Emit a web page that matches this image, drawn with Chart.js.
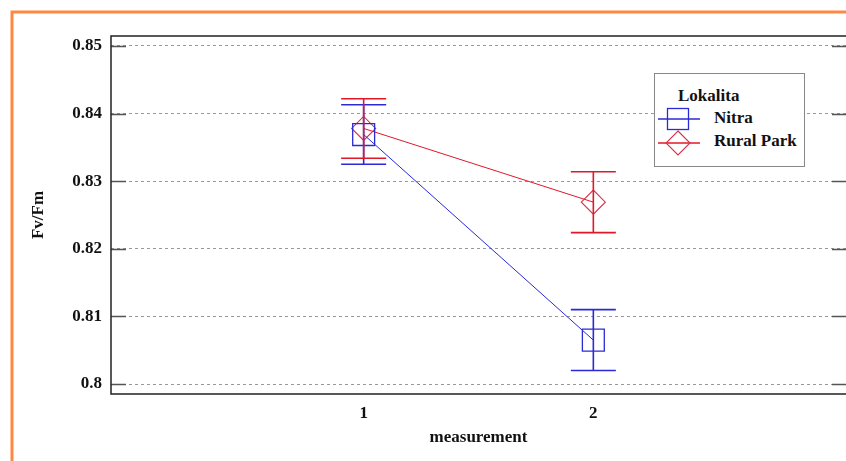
<!DOCTYPE html>
<html>
<head>
<meta charset="utf-8">
<script src="https://cdn.jsdelivr.net/npm/chart.js@4/dist/chart.umd.min.js"></script>
<style>
  html, body { margin: 0; padding: 0; background: #fff; }
  #wrap { position: relative; width: 846px; height: 461px; overflow: hidden; }
  #legend { position: absolute; left: 654px; top: 73px; width: 149px; height: 92px;
    border: 1px solid #888; background: #fff; box-sizing: content-box;
    font: bold 17px "Liberation Serif", "Times New Roman", serif; color: #111; }
  #legend .title { position: absolute; left: 23px; top: 12px; }
  #legend .item { position: absolute; left: 2px; height: 24px; width: 146px; }
  #legend .item svg { position: absolute; left: 0; top: 0; }
  #legend .item span { position: absolute; left: 57px; top: 1px; white-space: nowrap; }
</style>
</head>
<body>
<div id="wrap">
  <canvas id="c" width="846" height="461"></canvas>
  <div id="legend"></div>
</div>
<script>
// ---- data ----
const categories = [1, 2];
const xTickLabels = ['1', '2'];
const yTicks = [0.80, 0.81, 0.82, 0.83, 0.84, 0.85];
const seriesNames = ['Nitra', 'Rural Park'];
const legendTitle = 'Lokalita';
const nitraMean = [0.8369, 0.8065];
const nitraErr = [0.0044, 0.0045];
const ruralMean = [0.8378, 0.8269];
const ruralErr = [0.0044, 0.0045];
const xTitle = 'measurement';
const yTitle = 'Fv/Fm';

const BLUE = '#2a2ad6';
const RED = '#e0182a';
const FONT = { family: '"Liberation Serif", "Times New Roman", serif', size: 17, weight: 'bold' };

function pts(xs, ys) { return xs.map((x, i) => ({ x: x, y: ys[i] })); }

const errSets = [nitraErr, ruralErr];
const meanSets = [nitraMean, ruralMean];

const framePlugin = {
  id: 'frame',
  beforeDraw(chart) {
    const ctx = chart.ctx;
    ctx.save();
    ctx.fillStyle = '#fff';
    ctx.fillRect(0, 0, chart.width, chart.height);
    ctx.strokeStyle = '#ff8840';
    ctx.lineWidth = 3;
    ctx.beginPath();
    ctx.moveTo(12, chart.height + 5);
    ctx.lineTo(12, 12);
    ctx.lineTo(chart.width + 5, 12);
    ctx.stroke();
    ctx.restore();
  },
  afterDraw(chart) {
    const ctx = chart.ctx;
    const a = chart.chartArea;
    const y = chart.scales.y;
    ctx.save();
    ctx.strokeStyle = '#555';
    ctx.lineWidth = 1.5;
    y.ticks.forEach(t => {
      const py = Math.round(y.getPixelForValue(t.value)) + 0.5;
      ctx.beginPath();
      ctx.moveTo(a.left, py); ctx.lineTo(a.left + 15, py);
      ctx.moveTo(a.right - 14, py); ctx.lineTo(a.right + 2, py);
      ctx.stroke();
    });
    ctx.strokeStyle = '#222';
    ctx.lineWidth = 1.5;
    ctx.beginPath();
    ctx.moveTo(a.right + 2, a.top);
    ctx.lineTo(a.left, a.top);
    ctx.lineTo(a.left, a.bottom);
    ctx.lineTo(a.right + 2, a.bottom);
    ctx.stroke();
    ctx.restore();
  },
  afterDatasetsDraw(chart) {
    const ctx = chart.ctx;
    const y = chart.scales.y;
    ctx.save();
    chart.data.datasets.forEach((ds, di) => {
      const meta = chart.getDatasetMeta(di);
      ctx.strokeStyle = ds.borderColor;
      ctx.lineWidth = 1.6;
      meta.data.forEach((el, i) => {
        const m = meanSets[di][i], e = errSets[di][i];
        const yt = y.getPixelForValue(m + e), yb = y.getPixelForValue(m - e);
        ctx.beginPath();
        ctx.moveTo(el.x, yt); ctx.lineTo(el.x, yb);
        ctx.moveTo(el.x - 22.5, yt); ctx.lineTo(el.x + 22.5, yt);
        ctx.moveTo(el.x - 22.5, yb); ctx.lineTo(el.x + 22.5, yb);
        ctx.stroke();
      });
    });
    ctx.restore();
  }
};

const chart = new Chart(document.getElementById('c'), {
  type: 'line',
  data: {
    datasets: [
      { label: seriesNames[0], data: pts(categories, nitraMean), borderColor: BLUE, borderWidth: 1,
        pointStyle: 'rect', pointRadius: 15.5, pointBorderWidth: 1.3, pointBorderColor: BLUE,
        pointBackgroundColor: 'rgba(0,0,0,0)', fill: false, tension: 0 },
      { label: seriesNames[1], data: pts(categories, ruralMean), borderColor: RED, borderWidth: 1,
        pointStyle: 'rectRot', pointRadius: 12, pointBorderWidth: 1.1, pointBorderColor: '#d8304a',
        pointBackgroundColor: 'rgba(0,0,0,0)', fill: false, tension: 0 }
    ]
  },
  options: {
    responsive: false,
    animation: false,
    devicePixelRatio: 1,
    layout: { autoPadding: false, padding: { top: 36, right: 0, left: 0, bottom: 0 } },
    plugins: { legend: { display: false }, tooltip: { enabled: false } },
    scales: {
      x: {
        type: 'linear', min: -0.1, max: 3.1,
        afterBuildTicks: s => { s.ticks = categories.map(v => ({ value: v })); },
        afterFit: s => { s.height = 67; s.paddingLeft = 0; s.paddingRight = 0; },
        grid: { display: false, drawTicks: false },
        border: { display: false },
        ticks: { font: FONT, color: '#111', padding: 9,
          callback: (v) => xTickLabels[categories.indexOf(v)] },
        title: { display: true, text: xTitle, font: FONT, color: '#111', padding: { top: 13, bottom: 13 } }
      },
      y: {
        type: 'linear', min: 0.79853, max: 0.85147,
        afterBuildTicks: s => { s.ticks = yTicks.map(v => ({ value: v })); },
        afterFit: s => { s.width = 111; s.paddingTop = 0; s.paddingBottom = 0; },
        grid: { color: '#999', borderDash: [3, 3], drawTicks: false, lineWidth: 1 },
        border: { display: false, dash: [3, 3] },
        ticks: { font: FONT, color: '#111', padding: 9,
          callback: (v) => String(+Number(v).toFixed(2)) },
        title: { display: true, text: yTitle, font: FONT, color: '#111', padding: { top: 28, bottom: 28 } }
      }
    }
  },
  plugins: [framePlugin]
});

// legend (HTML, built from the dataset names)
const lg = document.getElementById('legend');
const t = document.createElement('div'); t.className = 'title'; t.textContent = legendTitle; lg.appendChild(t);
const symbols = [
  `<svg width="46" height="24"><line x1="1" y1="12" x2="43" y2="12" stroke="${BLUE}" stroke-width="1.3"/><rect x="10.5" y="1.5" width="21" height="21" fill="none" stroke="${BLUE}" stroke-width="1.3"/></svg>`,
  `<svg width="46" height="26"><line x1="1" y1="13" x2="43" y2="13" stroke="${RED}" stroke-width="1.3"/><polygon points="21,1 33,13 21,25 9,13" fill="none" stroke="#d8304a" stroke-width="1.1"/></svg>`
];
seriesNames.forEach((n, i) => {
  const d = document.createElement('div'); d.className = 'item';
  d.style.top = (33 + i * 23) + 'px';
  d.innerHTML = symbols[i] + '<span></span>';
  d.querySelector('span').textContent = n;
  lg.appendChild(d);
});
</script>
</body>
</html>
